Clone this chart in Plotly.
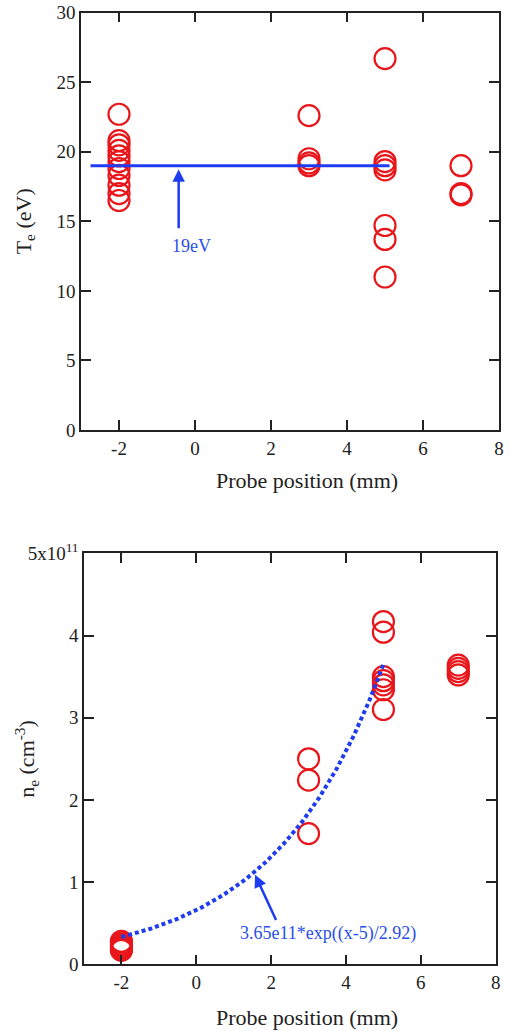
import numpy as np
import plotly.graph_objects as go

# ---------------- data ----------------
# Top panel: electron temperature (eV) vs probe position (mm)
te_x = [-2]*11 + [3]*4 + [5]*7 + [7]*3
te_y = [22.7, 20.8, 20.5, 20.1, 19.7, 19.3, 18.8, 18.3, 17.6, 17.0, 16.5,
        22.6, 19.5, 19.2, 19.0,
        26.7, 19.3, 19.0, 18.7, 14.7, 13.7, 11.0,
        19.0, 17.0, 16.9]
te_mean = 19.0
te_line_x = [-2.75, 5.12]

# Bottom panel: electron density (cm^-3) vs probe position (mm)
ne_x = [-2]*7 + [3]*3 + [5]*7 + [7]*4
ne_y = [0.17e11, 0.19e11, 0.21e11, 0.23e11, 0.25e11, 0.27e11, 0.28e11,
        2.50e11, 2.24e11, 1.59e11,
        4.17e11, 4.04e11, 3.50e11, 3.45e11, 3.40e11, 3.34e11, 3.10e11,
        3.64e11, 3.60e11, 3.56e11, 3.52e11]
# Fit stated on the chart: 3.65e11*exp((x-5)/2.92)
fit_A, fit_x0, fit_L = 3.65e11, 5.0, 2.92
fit_x = np.linspace(-2, 5, 200)
fit_y = fit_A * np.exp((fit_x - fit_x0) / fit_L)

x_ticks = [-2, 0, 2, 4, 6, 8]
x_ticktext = ["-2", "0", "2", "4", "6", "8"]
te_ticks = [0, 5, 10, 15, 20, 25, 30]
ne_tickvals = [0, 1e11, 2e11, 3e11, 4e11, 5e11]
ne_ticktext = ["0", "1", "2", "3", "4", "5x10<sup>11</sup>"]

# ---------------- style ----------------
W, H = 510, 1031
RED = "#e8161b"
BLUE = "#1f3cf0"
TXTBLUE = "#2a4fe6"
FONT = "Liberation Serif, Times New Roman, serif"

fig = go.Figure()

fig.add_trace(go.Scatter(
    x=te_x, y=te_y, mode="markers", xaxis="x", yaxis="y",
    marker=dict(symbol="circle-open", size=21, color=RED, line=dict(width=2.2, color=RED)),
    showlegend=False))
fig.add_trace(go.Scatter(
    x=te_line_x, y=[te_mean, te_mean], mode="lines", xaxis="x", yaxis="y",
    line=dict(color=BLUE, width=3), showlegend=False))

fig.add_trace(go.Scatter(
    x=ne_x, y=ne_y, mode="markers", xaxis="x2", yaxis="y2",
    marker=dict(symbol="circle-open", size=21, color=RED, line=dict(width=2.2, color=RED)),
    showlegend=False))
fig.add_trace(go.Scatter(
    x=fit_x, y=fit_y, mode="lines", xaxis="x2", yaxis="y2",
    line=dict(color=BLUE, width=4, dash="4px,3px"), showlegend=False))

axis_common = dict(
    showline=True, linecolor="#222", linewidth=1.5, mirror="ticks",
    ticks="inside", ticklen=10, tickwidth=1.5, tickcolor="#222",
    showgrid=False, zeroline=False,
    tickfont=dict(family=FONT, size=19, color="#222"),
    automargin=False,
)

fig.update_layout(
    width=W, height=H,
    margin=dict(l=0, r=0, t=0, b=0),
    paper_bgcolor="white", plot_bgcolor="white",
    font=dict(family=FONT, color="#222"),
    xaxis=dict(domain=[81/W, 499/W], range=[-3, 8], tickvals=x_ticks, ticktext=x_ticktext,
               anchor="y", **axis_common),
    yaxis=dict(domain=[1-430/H, 1-12.7/H], range=[0, 30], tickvals=te_ticks, anchor="x", **axis_common),
    xaxis2=dict(domain=[84/W, 495.7/W], range=[-3, 8], tickvals=x_ticks, ticktext=x_ticktext,
                anchor="y2", **axis_common),
    yaxis2=dict(domain=[1-964.3/H, 1-553.3/H], range=[0, 5e11], tickvals=ne_tickvals,
                ticktext=ne_ticktext, anchor="x2", **axis_common),
)

TF = dict(family=FONT, size=22, color="#222")
ann = []
# axis titles
ann.append(dict(text="Probe position (mm)", xref="x domain", yref="y domain", x=0.5, y=0,
                xanchor="center", yanchor="middle", xshift=17, yshift=-50, showarrow=False, font=TF))
ann.append(dict(text="T<sub>e</sub> (eV)", xref="x domain", yref="y domain", x=0, y=0.5,
                xanchor="center", yanchor="middle", xshift=-56, textangle=-90, showarrow=False, font=TF))
ann.append(dict(text="Probe position (mm)", xref="x2 domain", yref="y2 domain", x=0.5, y=0,
                xanchor="center", yanchor="middle", xshift=17, yshift=-53, showarrow=False, font=TF))
ann.append(dict(text="n<sub>e</sub> (cm<sup>-3</sup>)", xref="x2 domain", yref="y2 domain", x=0, y=0.5,
                xanchor="center", yanchor="middle", xshift=-57, textangle=-90, showarrow=False, font=TF))
# top arrow + label
ann.append(dict(x=-0.43, y=18.75, ax=-0.43, ay=14.4, xref="x", yref="y", axref="x", ayref="y",
                text="", showarrow=True, arrowhead=2, arrowsize=1, arrowwidth=2.5, arrowcolor=BLUE))
ann.append(dict(x=-0.1, y=13.2, xref="x", yref="y", text="19eV", showarrow=False,
                font=dict(family=FONT, size=18, color=TXTBLUE)))
# bottom arrow + label
ann.append(dict(x=1.57, y=1.09e11, ax=2.15, ay=0.52e11, xref="x2", yref="y2", axref="x2", ayref="y2",
                text="", showarrow=True, arrowhead=2, arrowsize=1, arrowwidth=2.5, arrowcolor=BLUE))
ann.append(dict(x=3.52, y=0.37e11, xref="x2", yref="y2", text="3.65e11*exp((x-5)/2.92)", showarrow=False,
                font=dict(family=FONT, size=18, color=TXTBLUE)))
fig.update_layout(annotations=ann)

fig.write_html("out.html")
